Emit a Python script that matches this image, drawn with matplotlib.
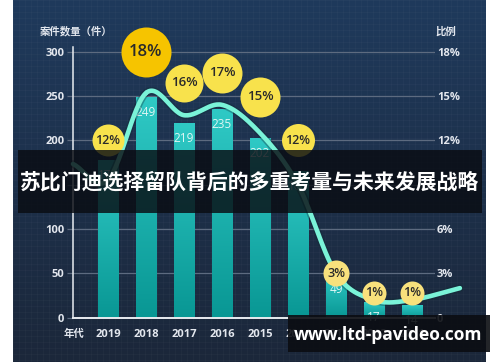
import numpy as np
import matplotlib
matplotlib.use('Agg')
import matplotlib.pyplot as plt
from matplotlib.patches import Rectangle
from matplotlib.colors import LinearSegmentedColormap

plt.rcParams['font.family'] = ['Open Sans', 'Noto Sans CJK SC', 'DejaVu Sans']

# data
years = ['2019', '2018', '2017', '2016', '2015', '2014', '2013', '2012', '2011']
cases = [178, 249, 219, 235, 202, 165, 49, 17, 14]
ratio_labels = ['12%', '18%', '16%', '17%', '15%', '12%', '3%', '1%', '1%']
# trend line (right axis, %), including the two loose ends of the curve
trend_x = [-0.92, 0, 1, 2, 3, 4, 5, 6, 7, 8, 9.26]
trend_pct = [10.4, 9.3, 15.2, 13.7, 14.4, 12.5, 9.0, 3.0, 1.2, 1.2, 2.0]

left_ticks = [0, 50, 100, 150, 200, 250, 300]
left_labels = ['0', '50', '100', '', '200', '250', '300']
right_ticks = [0, 3, 6, 9, 12, 15, 18]
right_labels = ['0', '3%', '6%', '', '12%', '15%', '18%']

title = '苏比门迪选择留队背后的多重考量与未来发展战略'
watermark = 'www.ltd-pavideo.com'

# bubble layout (centre height in case units, radius in px)
bubble_y = [200, 300, 265, 276, 249, 200, 50, 28, 28]
bubble_r = [16, 25, 19, 20, 20, 16.5, 13, 12, 12]
bubble_fs = [9, 12, 9.5, 9.5, 9.5, 9, 9, 9, 9]


def catmull(xp, yp, n=30):
    P = np.column_stack([xp, yp]).astype(float)
    P = np.vstack([P[0] * 2 - P[1], P, P[-1] * 2 - P[-2]])
    out = []
    t = np.linspace(0, 1, n)[:, None]
    for i in range(1, len(P) - 2):
        p0, p1, p2, p3 = P[i - 1], P[i], P[i + 1], P[i + 2]
        seg = 0.5 * ((2 * p1) + (-p0 + p2) * t + (2 * p0 - 5 * p1 + 4 * p2 - p3) * t ** 2
                     + (-p0 + 3 * p1 - 3 * p2 + p3) * t ** 3)
        out.append(seg)
    out = np.vstack(out)
    return out[:, 0], out[:, 1]


W, H = 500, 362
fig = plt.figure(figsize=(5, 3.62), dpi=100)
fig.patch.set_facecolor('white')

# dark panel with vertical gradient + faint texture
bg = fig.add_axes([13 / W, 0, 473 / W, 1])
grad = np.linspace(0, 1, 256)[:, None]
top = np.array([31, 58, 92]) / 255
bot = np.array([27, 39, 58]) / 255
img = top[None, None, :] * (1 - grad[:, :, None]) + bot[None, None, :] * grad[:, :, None]
bg.imshow(img, aspect='auto', extent=[0, 473, 362, 0])
for gx in np.arange(0, 473, 6):
    bg.axvline(gx, color='white', lw=0.4, alpha=0.04)
for gy in np.arange(0, 362, 6):
    bg.axhline(gy, color='white', lw=0.4, alpha=0.04)
bg.set_xlim(0, 473)
bg.set_ylim(362, 0)
bg.axis('off')

ax = fig.add_axes([73 / W, (H - 317.7) / H, (435 - 73) / W, (317.7 - 47.2) / H])
ax.patch.set_visible(False)
ax2 = ax.twinx()
ax2.patch.set_visible(False)

x = np.arange(len(years))
ax2.set_ylim(0, 305 * 18 / 300)

# grid
for v in left_ticks[1:]:
    ax.axhline(v, color='#5d6b80', lw=0.9, zorder=1)

bars = ax.bar(x, cases, width=0.53, color='#14b3af', zorder=2)
gimg = np.linspace(0, 1, 100)[:, None]
cm = LinearSegmentedColormap.from_list('teal', ['#099794', '#2fc9c5'])
for b in bars:
    x0 = b.get_x()
    ax.imshow(gimg, cmap=cm, aspect='auto', origin='lower',
              extent=[x0, x0 + b.get_width(), 0, b.get_height()], zorder=2.1, clip_path=b)
ax.set_xlim(-0.92, 8.605)
ax.set_ylim(0, 305)

for i, v in enumerate(cases):
    ax.annotate(str(v), (x[i], v), xytext=(0, -11), textcoords='offset points',
                ha='center', va='center', fontsize=8.5, color='#dff7f5', zorder=3)

# trend curve
cx, cy = catmull(trend_x, trend_pct)
ax.plot(cx, cy, color='#0d2a33', lw=5.5, alpha=0.35, transform=ax2.transData,
        clip_on=False, zorder=3.5, solid_capstyle='round')
ax.plot(cx, cy, color='#7af3d8', lw=3.3, transform=ax2.transData,
        clip_on=False, zorder=4, solid_capstyle='round')

# bubbles
for i in range(len(years)):
    col = '#f6c400' if ratio_labels[i] == '18%' else ('#f8e24c' if i < 6 else '#f8e17c')
    s = (2 * bubble_r[i] * 0.72) ** 2
    ax.scatter([x[i]], [bubble_y[i]], s=s, color=col, zorder=5, clip_on=False, linewidths=0)
    ax.text(x[i], bubble_y[i], ratio_labels[i], ha='center', va='center',
            fontsize=bubble_fs[i], fontweight='semibold', color='#2a2a2a', zorder=6, clip_on=False)

# axes styling
for sp in ['top', 'right']:
    ax.spines[sp].set_visible(False)
    ax2.spines[sp].set_visible(False)
ax2.spines['left'].set_visible(False)
ax2.spines['bottom'].set_visible(False)
ax.spines['left'].set_color('#e8ecf0')
ax.spines['left'].set_linewidth(1.1)
ax.spines['bottom'].set_color('#e8ecf0')
ax.spines['bottom'].set_linewidth(1.4)

ax.set_yticks(left_ticks)
ax.set_yticklabels(left_labels)
ax.tick_params(axis='y', length=4.3, width=0.9, color='#5d6b80', pad=2,
               labelsize=8, labelcolor='#e3e7ee')
ax.set_xticks(x)
ax.set_xticklabels(years)
ax.tick_params(axis='x', length=0, pad=8, labelsize=8, labelcolor='#e3e7ee')
for t in ax.get_xticklabels() + ax.get_yticklabels():
    t.set_fontweight('bold')

ax2.set_yticks(right_ticks)
ax2.set_yticklabels(right_labels)
ax2.tick_params(axis='y', length=0, pad=1.5, labelsize=8, labelcolor='#e3e7ee')
for t in ax2.get_yticklabels():
    t.set_fontweight('bold')

fig.text(40 / W, 1 - 32 / H, '案件数量（件）', fontsize=7.5, fontweight='bold',
         color='#e3e7ee', ha='left', va='center')
fig.text(435 / W, 1 - 32 / H, '比例', fontsize=7.5, fontweight='bold',
         color='#e3e7ee', ha='left', va='center')
fig.text(74 / W, 1 - 334 / H, '年代', fontsize=7.5, fontweight='bold',
         color='#e3e7ee', ha='center', va='center')

# title band
fig.patches.append(Rectangle((18 / W, 1 - 213 / H), 464 / W, 63 / H, transform=fig.transFigure,
                             facecolor='#090c12', alpha=0.82, zorder=10))
fig.text(250 / W, 1 - 183 / H, title, fontsize=15, fontweight='bold', color='white',
         ha='center', va='center', zorder=11)

# watermark
fig.patches.append(Rectangle((288 / W, 1 - 352 / H), 202 / W, 37 / H, transform=fig.transFigure,
                             facecolor='#0b0d12', alpha=0.9, zorder=10))
fig.text(388 / W, 1 - 335 / H, watermark, fontsize=12.5, fontweight='bold', color='white',
         ha='center', va='center', zorder=11)

fig.savefig('out.png', dpi=100)
